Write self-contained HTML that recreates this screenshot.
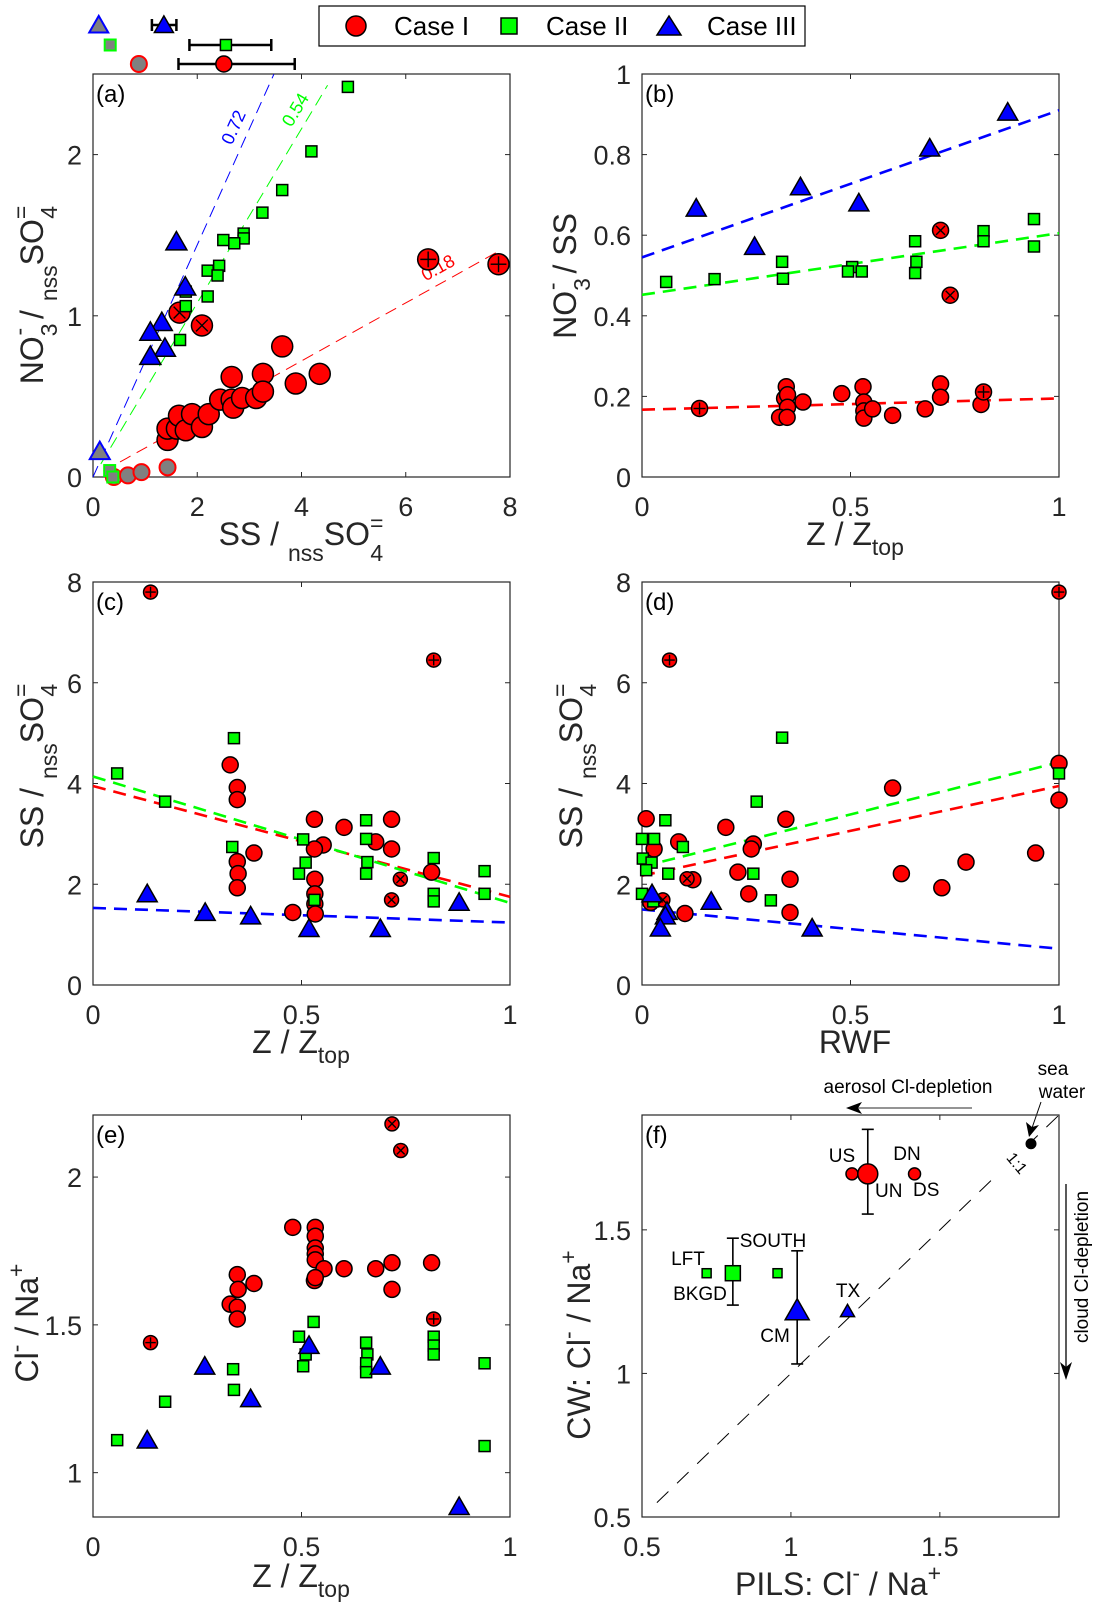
<!DOCTYPE html>
<html><head><meta charset="utf-8"><title>Six-panel aerosol and cloud-water ratio scatter plots (a)–(f)</title>
<style>
html,body{margin:0;padding:0;background:#fff;}
svg{display:block;font-family:"Liberation Sans",Arial,sans-serif;}
</style></head>
<body>
<svg id="fig" width="1100" height="1618" viewBox="0 0 1100 1618" xmlns="http://www.w3.org/2000/svg">
<rect x="0" y="0" width="1100" height="1618" fill="#fff"/>
<g id="legend">
  <rect x="319" y="6" width="486" height="40" fill="#fff" stroke="#000" stroke-width="1.2"/>
  <g>
    <circle cx="356" cy="26" r="10" fill="#f00" stroke="#000" stroke-width="1.5"/>
    <text x="394" y="35" font-size="26" fill="#000">Case I</text>
  </g>
  <g>
    <rect x="501" y="18" width="16" height="16" fill="#0f0" stroke="#000" stroke-width="1.5"/>
    <text x="546" y="35" font-size="26" fill="#000">Case II</text>
  </g>
  <g>
    <polygon points="669,16 681,35 657,35" fill="#00f" stroke="#000" stroke-width="1.5"/>
    <text x="707" y="35" font-size="26" fill="#000">Case III</text>
  </g>
</g>
<g font-size="32" fill="#262626">
  <text x="301" y="545" text-anchor="middle">SS / <tspan font-size="23" dy="16">nss</tspan><tspan dy="-16">SO</tspan><tspan font-size="23" dy="-14">=</tspan><tspan font-size="23" dx="-13" dy="30">4</tspan></text>
  <text transform="translate(43,295) rotate(-90)" text-anchor="middle">NO<tspan font-size="23" dy="14">3</tspan><tspan font-size="23" dx="-12" dy="-30">-</tspan><tspan dy="16"> / </tspan><tspan font-size="23" dy="14">nss</tspan><tspan dy="-14">SO</tspan><tspan font-size="23" dy="-14">=</tspan><tspan font-size="23" dx="-13" dy="28">4</tspan></text>
  <text x="855" y="545" text-anchor="middle">Z / Z<tspan font-size="23" dy="10">top</tspan></text>
  <text transform="translate(576,276) rotate(-90)" text-anchor="middle">NO<tspan font-size="23" dy="14">3</tspan><tspan font-size="23" dx="-12" dy="-30">-</tspan><tspan dy="16"> / SS</tspan></text>
  <text x="301" y="1053" text-anchor="middle">Z / Z<tspan font-size="23" dy="10">top</tspan></text>
  <text transform="translate(43,766) rotate(-90)" text-anchor="middle">SS / <tspan font-size="23" dy="14">nss</tspan><tspan dy="-14">SO</tspan><tspan font-size="23" dy="-14">=</tspan><tspan font-size="23" dx="-13" dy="28">4</tspan></text>
  <text x="855" y="1053" text-anchor="middle">RWF</text>
  <text transform="translate(582,766) rotate(-90)" text-anchor="middle">SS / <tspan font-size="23" dy="14">nss</tspan><tspan dy="-14">SO</tspan><tspan font-size="23" dy="-14">=</tspan><tspan font-size="23" dx="-13" dy="28">4</tspan></text>
  <text x="301" y="1587" text-anchor="middle">Z / Z<tspan font-size="23" dy="10">top</tspan></text>
  <text transform="translate(38,1323) rotate(-90)" text-anchor="middle">Cl<tspan font-size="23" dy="-14">-</tspan><tspan dy="14"> / Na</tspan><tspan font-size="23" dy="-14">+</tspan></text>
  <text x="838" y="1595" text-anchor="middle">PILS:  Cl<tspan font-size="23" dy="-14">-</tspan><tspan dy="14"> / Na</tspan><tspan font-size="23" dy="-14">+</tspan></text>
  <text transform="translate(590,1345) rotate(-90)" text-anchor="middle">CW:  Cl<tspan font-size="23" dy="-14">-</tspan><tspan dy="14"> / Na</tspan><tspan font-size="23" dy="-14">+</tspan></text>
</g>
<g fill="#000">
  <text x="908" y="1093" font-size="19" text-anchor="middle">aerosol Cl-depletion</text>
  <line x1="972" y1="1108" x2="856" y2="1108" stroke="#555" stroke-width="1.3"/>
  <polygon points="846,1108 862,1102 858,1108 862,1114" fill="#000"/>
  <text font-size="19" text-anchor="middle"><tspan x="1053" y="1075">sea</tspan><tspan x="1062" y="1098">water</tspan></text>
  <line x1="1041" y1="1102" x2="1032" y2="1128" stroke="#000" stroke-width="1"/>
  <polygon points="1029,1137 1026,1122 1032,1127 1039,1125" fill="#000"/>
  <text transform="translate(1088,1267) rotate(-90)" font-size="19" text-anchor="middle">cloud Cl-depletion</text>
  <line x1="1066" y1="1184" x2="1066" y2="1370" stroke="#000" stroke-width="1.3"/>
  <polygon points="1066,1380 1060,1362 1066,1367 1072,1362" fill="#000"/>
</g>
<g id="plots"></g>
</svg>
<script>
// ---------- Panel (a) data ----------
const aRedX=[1.43,1.43,1.61,1.65,1.78,1.90,2.09,2.22,2.44,2.66,2.69,2.66,2.86,3.13,3.26,3.26,3.63,3.89,4.35];
const aRedY=[0.23,0.30,0.30,0.38,0.29,0.39,0.31,0.39,0.48,0.48,0.43,0.62,0.49,0.49,0.64,0.53,0.81,0.58,0.64];
const aRedPlusX=[6.43,7.78];
const aRedPlusY=[1.35,1.32];
const aRedCrossX=[1.66,2.09];
const aRedCrossY=[1.02,0.94];
const aGrayCircX=[0.40,0.67,0.93,1.43];
const aGrayCircY=[0.0,0.01,0.03,0.06];
const aGraySqX=[0.32,0.38];
const aGraySqY=[0.04,0.0];
const aGrayTriX=[0.13];
const aGrayTriY=[0.16];
const aGreenX=[4.89,4.19,3.63,3.25,2.89,2.89,2.71,2.50,2.42,2.20,2.39,2.20,1.78,1.78,1.67];
const aGreenY=[2.42,2.02,1.78,1.64,1.51,1.48,1.45,1.47,1.31,1.28,1.25,1.12,1.06,1.15,0.85];
const aBlueX=[1.60,1.77,1.32,1.10,1.38,1.10];
const aBlueY=[1.46,1.18,0.96,0.90,0.80,0.75];
const aFitSlope=[0.18,0.54,0.72];
const aFitXStart=[0.2,0.15,0.0];
const aFitXEnd=[7.8,4.5,3.47];
const aFitLabels=["0.18","0.54","0.72"];
const aFitLabelX=[6.76,4.13,2.96];
const stripMean=[1.36,2.55,2.51];
const stripLo=[1.13,1.85,1.64];
const stripHi=[1.60,3.42,3.87];
const stripGray=[0.11,0.33,0.88];
// ---------- Panel (b) data ----------
const bBlueX=[0.13,0.27,0.38,0.52,0.69,0.877];
const bBlueY=[0.667,0.572,0.72,0.68,0.816,0.905];
const bGreenX=[0.058,0.174,0.336,0.338,0.504,0.494,0.527,0.655,0.658,0.655,0.819,0.819,0.94,0.94];
const bGreenY=[0.484,0.491,0.534,0.492,0.521,0.51,0.51,0.585,0.534,0.506,0.61,0.585,0.64,0.572];
const bRedX=[0.346,0.342,0.349,0.349,0.33,0.348,0.386,0.479,0.53,0.532,0.532,0.532,0.553,0.601,0.679,0.716,0.716,0.813];
const bRedY=[0.224,0.195,0.204,0.173,0.148,0.148,0.186,0.207,0.224,0.186,0.164,0.146,0.169,0.153,0.169,0.231,0.198,0.18];
const bRedPlusX=[0.138,0.819];
const bRedPlusY=[0.17,0.211];
const bRedCrossX=[0.716,0.739];
const bRedCrossY=[0.612,0.451];
const bFitStart=[0.167,0.452,0.545];
const bFitEnd=[0.195,0.605,0.91];
// ---------- Panel (c) data ----------
const cRedX=[0.329,0.346,0.346,0.346,0.348,0.346,0.386,0.531,0.602,0.552,0.531,0.532,0.532,0.532,0.533,0.479,0.678,0.716,0.716,0.812];
const cRedY=[4.37,3.92,3.68,2.45,2.21,1.93,2.62,3.29,3.13,2.78,2.70,2.10,1.81,1.61,1.41,1.44,2.84,3.29,2.70,2.24];
const cRedPlusX=[0.138,0.817];
const cRedPlusY=[7.8,6.45];
const cRedCrossX=[0.737,0.716];
const cRedCrossY=[2.10,1.69];
const cGreenX=[0.058,0.173,0.338,0.334,0.504,0.51,0.494,0.531,0.655,0.655,0.658,0.655,0.817,0.817,0.817,0.939,0.939];
const cGreenY=[4.2,3.64,4.9,2.74,2.89,2.43,2.21,1.69,3.27,2.9,2.44,2.21,2.52,1.81,1.66,2.26,1.81];
const cBlueX=[0.13,0.269,0.378,0.518,0.689,0.878];
const cBlueY=[1.81,1.44,1.37,1.12,1.12,1.64];
const cFitStart=[3.95,4.14,1.53];
const cFitEnd=[1.75,1.63,1.24];
// ---------- Panel (d) data ----------
const dRedX=[1.0,1.0,0.601,0.01,0.345,0.201,0.088,0.029,0.267,0.262,0.23,0.622,0.944,0.777,0.719,0.355,0.256,0.355,0.103,0.122,0.021];
const dRedY=[4.4,3.67,3.91,3.3,3.29,3.13,2.84,2.70,2.8,2.7,2.24,2.21,2.62,2.44,1.93,2.1,1.81,1.44,1.42,2.09,1.64];
const dRedPlusX=[1.0,0.066];
const dRedPlusY=[7.8,6.45];
const dRedCrossX=[0.108,0.05];
const dRedCrossY=[2.11,1.69];
const dGreenX=[0.336,1.0,0.275,0.056,0.0,0.029,0.098,0.002,0.023,0.01,0.063,0.267,0.0,0.309,0.027];
const dGreenY=[4.91,4.2,3.64,3.27,2.9,2.9,2.74,2.51,2.43,2.28,2.21,2.21,1.81,1.68,1.66];
const dBlueX=[0.024,0.166,0.06,0.056,0.044,0.408];
const dBlueY=[1.81,1.66,1.46,1.37,1.13,1.13];
const dFitStart=[2.17,2.35,1.5];
const dFitEnd=[3.95,4.42,0.72];
// ---------- Panel (e) data ----------
const eRedX=[0.479,0.533,0.533,0.533,0.533,0.533,0.554,0.531,0.533,0.602,0.678,0.717,0.717,0.812,0.346,0.348,0.386,0.329,0.346,0.346];
const eRedY=[1.83,1.83,1.80,1.76,1.74,1.72,1.69,1.65,1.66,1.69,1.69,1.71,1.62,1.71,1.67,1.62,1.64,1.57,1.56,1.52];
const eRedPlusX=[0.817,0.138];
const eRedPlusY=[1.52,1.44];
const eRedCrossX=[0.717,0.738];
const eRedCrossY=[2.18,2.09];
const eGreenX=[0.529,0.494,0.51,0.504,0.655,0.658,0.655,0.655,0.817,0.817,0.817,0.939,0.939,0.336,0.338,0.173,0.058];
const eGreenY=[1.51,1.46,1.40,1.36,1.44,1.40,1.37,1.34,1.46,1.43,1.40,1.37,1.09,1.35,1.28,1.24,1.11];
const eBlueX=[0.268,0.378,0.518,0.689,0.13,0.878];
const eBlueY=[1.36,1.25,1.43,1.36,1.11,0.885];
// ---------- Panel (f) data ----------
const fLabels=["US","UN","DN","DS","SOUTH","LFT","BKGD","CM","TX"];
const fRedMeanX=[1.258];
const fRedMeanY=[1.695];
const fRedErrLo=[1.555];
const fRedErrHi=[1.85];
const fRedSmallX=[1.205,1.415];
const fRedSmallY=[1.695,1.695];
const fGreenMeanX=[0.805];
const fGreenMeanY=[1.349];
const fGreenErrLo=[1.238];
const fGreenErrHi=[1.471];
const fGreenSmallX=[0.717,0.955];
const fGreenSmallY=[1.349,1.349];
const fBlueMeanX=[1.021];
const fBlueMeanY=[1.22];
const fBlueErrLo=[1.033];
const fBlueErrHi=[1.427];
const fBlueSmallX=[1.19];
const fBlueSmallY=[1.217];
const fSeaX=[1.806];
const fSeaY=[1.80];

const NS='http://www.w3.org/2000/svg';
const root=document.getElementById('plots');
function mk(tag,attrs,parent){const e=document.createElementNS(NS,tag);for(const k in attrs)e.setAttribute(k,attrs[k]);(parent||root).appendChild(e);return e;}

function axes(P,name,xt,xtl,yt,ytl,letter){
  const g=mk('g',{});
  
  
  P.sx=v=>P.L+(v-P.x0)/(P.x1-P.x0)*(P.R-P.L);
  P.sy=v=>P.B-(v-P.y0)/(P.y1-P.y0)*(P.B-P.T);
  const box=mk('rect',{x:P.L,y:P.T,width:P.R-P.L,height:P.B-P.T,fill:'none',stroke:'#262626','stroke-width':1.2},g);
  
  
  xt.forEach((v,i)=>{
    const x=P.sx(v);
    mk('line',{x1:x,y1:P.B,x2:x,y2:P.B-5,stroke:'#262626','stroke-width':1},g);
    mk('line',{x1:x,y1:P.T,x2:x,y2:P.T+5,stroke:'#262626','stroke-width':1},g);
    const t=mk('text',{x:x,y:P.B+39,'font-size':27,fill:'#262626','text-anchor':'middle'},g);
    t.textContent=xtl[i];
    
    
  });
  yt.forEach((v,i)=>{
    const y=P.sy(v);
    mk('line',{x1:P.L,y1:y,x2:P.L+5,y2:y,stroke:'#262626','stroke-width':1},g);
    mk('line',{x1:P.R,y1:y,x2:P.R-5,y2:y,stroke:'#262626','stroke-width':1},g);
    const t=mk('text',{x:P.L-11,y:y+10,'font-size':27,fill:'#262626','text-anchor':'end'},g);
    t.textContent=ytl[i];
    
    
  });
  const l=mk('text',{x:P.L+3,y:P.T+28,'font-size':24,fill:'#000'},g);
  l.textContent=letter;
  
  
  return P;
}

function marker(P,type,x,y,size,fill,stroke,sw,deco,name){
  return markerPx(P.sx(x),P.sy(y),type,size,fill,stroke,sw,deco,name);
}
function markerPx(cx,cy,type,size,fill,stroke,sw,deco,name){
  const g=mk('g',{});
  
  
  if(type==='o') mk('circle',{cx:cx,cy:cy,r:size,fill:fill,stroke:stroke,'stroke-width':sw},g);
  else if(type==='s') mk('rect',{x:cx-size,y:cy-size,width:2*size,height:2*size,fill:fill,stroke:stroke,'stroke-width':sw},g);
  else if(type==='^'){const h=size*1.75;mk('polygon',{points:`${cx},${cy-h*0.55} ${cx-size},${cy+h*0.45} ${cx+size},${cy+h*0.45}`,fill:fill,stroke:stroke,'stroke-width':sw},g);}
  const d=size*0.75;
  if(deco==='+'){mk('line',{x1:cx-d,y1:cy,x2:cx+d,y2:cy,stroke:'#000','stroke-width':1.4},g);mk('line',{x1:cx,y1:cy-d,x2:cx,y2:cy+d,stroke:'#000','stroke-width':1.4},g);}
  if(deco==='x'){const e=d*0.75;mk('line',{x1:cx-e,y1:cy-e,x2:cx+e,y2:cy+e,stroke:'#000','stroke-width':1.4},g);mk('line',{x1:cx-e,y1:cy+e,x2:cx+e,y2:cy-e,stroke:'#000','stroke-width':1.4},g);}
  return g;
}
function fitLine(P,x0,y0,x1,y1,color,w,dash,name){
  const ln=mk('line',{x1:P.sx(x0),y1:P.sy(y0),x2:P.sx(x1),y2:P.sy(y1),stroke:color,'stroke-width':w,'stroke-dasharray':dash});
  
  
}
const RED='#ff0000',GRN='#00ff00',BLU='#0000ff',GRY='#808080';
const FITC=[RED,GRN,BLU];

// ===== Panel a =====
const A=axes({L:93,R:510,T:74,B:477,x0:0,x1:8,y0:0,y1:2.5},'panel-a',[0,2,4,6,8],['0','2','4','6','8'],[0,1,2],['0','1','2'],'(a)');
aFitSlope.forEach((s,i)=>{
  fitLine(A,aFitXStart[i],s*aFitXStart[i],aFitXEnd[i],s*aFitXEnd[i],FITC[i],1,'12,7','fit-line-a');
  const lx=A.sx(aFitLabelX[i]), ly=A.sy(s*aFitLabelX[i]);
  const pxSlope=s*(A.B-A.T)/2.5/((A.R-A.L)/8);
  const th=Math.atan(pxSlope);
  const ang=-th*180/Math.PI;
  const ox=-Math.sin(th)*9, oy=-Math.cos(th)*9;
  const t=mk('text',{x:0,y:0,'font-size':18,fill:FITC[i],'text-anchor':'middle',transform:`translate(${lx+ox},${ly+oy}) rotate(${ang})`});
  t.textContent=aFitLabels[i];
  
  
});
aGrayCircX.forEach((x,i)=>marker(A,'o',x,aGrayCircY[i],8,GRY,RED,2,null,'gray-point-case-i'));
aGraySqX.forEach((x,i)=>marker(A,'s',x,aGraySqY[i],5.5,GRY,GRN,2,null,'gray-point-case-ii'));
aGrayTriX.forEach((x,i)=>marker(A,'^',x,aGrayTriY[i],10,GRY,BLU,2,null,'gray-point-case-iii'));
aRedX.forEach((x,i)=>marker(A,'o',x,aRedY[i],10.5,RED,'#000',1.5,null,'point-case-i'));
aRedPlusX.forEach((x,i)=>marker(A,'o',x,aRedPlusY[i],10.5,RED,'#000',1.5,'+','point-case-i-plus'));
aRedCrossX.forEach((x,i)=>marker(A,'o',x,aRedCrossY[i],10.5,RED,'#000',1.5,'x','point-case-i-cross'));
aGreenX.forEach((x,i)=>marker(A,'s',x,aGreenY[i],5.5,GRN,'#000',1.5,null,'point-case-ii'));
aBlueX.forEach((x,i)=>marker(A,'^',x,aBlueY[i],10.5,BLU,'#000',1.5,null,'point-case-iii'));
const stripY=[25,45,64];
const stripType=['^','s','o'];
const stripFill=[BLU,GRN,RED];
const stripSize=[9.5,5.5,8];
stripMean.forEach((m,i)=>{
  const y=stripY[i],x0=A.sx(stripLo[i]),x1=A.sx(stripHi[i]);
  const eb=mk('g',{});
  
  
  mk('line',{x1:x0,y1:y,x2:x1,y2:y,stroke:'#000','stroke-width':2.5},eb);
  mk('line',{x1:x0,y1:y-6,x2:x0,y2:y+6,stroke:'#000','stroke-width':2.5},eb);
  mk('line',{x1:x1,y1:y-6,x2:x1,y2:y+6,stroke:'#000','stroke-width':2.5},eb);
  markerPx(A.sx(stripGray[i]),y,stripType[i],stripSize[i],GRY,stripFill[i],2,null,'mean-gray-marker');
  markerPx(A.sx(m),y,stripType[i],stripSize[i],stripFill[i],'#000',1.5,null,'mean-marker');
});

// ===== Panel b =====
const Bp=axes({L:642,R:1059,T:74,B:477,x0:0,x1:1,y0:0,y1:1},'panel-b',[0,0.5,1],['0','0.5','1'],[0,0.2,0.4,0.6,0.8,1],['0','0.2','0.4','0.6','0.8','1'],'(b)');
bFitStart.forEach((s,i)=>fitLine(Bp,0,s,1,bFitEnd[i],FITC[i],2.6,'13,8','fit-line-b'));
bRedX.forEach((x,i)=>marker(Bp,'o',x,bRedY[i],8,RED,'#000',1.5,null,'point-case-i'));
bRedPlusX.forEach((x,i)=>marker(Bp,'o',x,bRedPlusY[i],8,RED,'#000',1.5,'+','point-case-i-plus'));
bRedCrossX.forEach((x,i)=>marker(Bp,'o',x,bRedCrossY[i],8,RED,'#000',1.5,'x','point-case-i-cross'));
bGreenX.forEach((x,i)=>marker(Bp,'s',x,bGreenY[i],5.5,GRN,'#000',1.5,null,'point-case-ii'));
bBlueX.forEach((x,i)=>marker(Bp,'^',x,bBlueY[i],10,BLU,'#000',1.5,null,'point-case-iii'));

// ===== Panel c =====
const C=axes({L:93,R:510,T:582,B:985,x0:0,x1:1,y0:0,y1:8},'panel-c',[0,0.5,1],['0','0.5','1'],[0,2,4,6,8],['0','2','4','6','8'],'(c)');
cFitStart.forEach((s,i)=>fitLine(C,0,s,1,cFitEnd[i],FITC[i],2.6,'13,8','fit-line-c'));
cRedX.forEach((x,i)=>marker(C,'o',x,cRedY[i],8,RED,'#000',1.5,null,'point-case-i'));
cRedPlusX.forEach((x,i)=>marker(C,'o',x,cRedPlusY[i],7,RED,'#000',1.5,'+','point-case-i-plus'));
cRedCrossX.forEach((x,i)=>marker(C,'o',x,cRedCrossY[i],7,RED,'#000',1.5,'x','point-case-i-cross'));
cGreenX.forEach((x,i)=>marker(C,'s',x,cGreenY[i],5.5,GRN,'#000',1.5,null,'point-case-ii'));
cBlueX.forEach((x,i)=>marker(C,'^',x,cBlueY[i],10,BLU,'#000',1.5,null,'point-case-iii'));

// ===== Panel d =====
const D=axes({L:642,R:1059,T:582,B:985,x0:0,x1:1,y0:0,y1:8},'panel-d',[0,0.5,1],['0','0.5','1'],[0,2,4,6,8],['0','2','4','6','8'],'(d)');
dFitStart.forEach((s,i)=>fitLine(D,0,s,1,dFitEnd[i],FITC[i],2.6,'13,8','fit-line-d'));
dRedX.forEach((x,i)=>marker(D,'o',x,dRedY[i],8,RED,'#000',1.5,null,'point-case-i'));
dRedPlusX.forEach((x,i)=>marker(D,'o',x,dRedPlusY[i],7,RED,'#000',1.5,'+','point-case-i-plus'));
dRedCrossX.forEach((x,i)=>marker(D,'o',x,dRedCrossY[i],7,RED,'#000',1.5,'x','point-case-i-cross'));
dGreenX.forEach((x,i)=>marker(D,'s',x,dGreenY[i],5.5,GRN,'#000',1.5,null,'point-case-ii'));
dBlueX.forEach((x,i)=>marker(D,'^',x,dBlueY[i],10,BLU,'#000',1.5,null,'point-case-iii'));

// ===== Panel e =====
const E=axes({L:93,R:510,T:1115,B:1517,x0:0,x1:1,y0:0.85,y1:2.21},'panel-e',[0,0.5,1],['0','0.5','1'],[1,1.5,2],['1','1.5','2'],'(e)');
eRedX.forEach((x,i)=>marker(E,'o',x,eRedY[i],8,RED,'#000',1.5,null,'point-case-i'));
eRedPlusX.forEach((x,i)=>marker(E,'o',x,eRedPlusY[i],7,RED,'#000',1.5,'+','point-case-i-plus'));
eRedCrossX.forEach((x,i)=>marker(E,'o',x,eRedCrossY[i],7,RED,'#000',1.5,'x','point-case-i-cross'));
eGreenX.forEach((x,i)=>marker(E,'s',x,eGreenY[i],5.5,GRN,'#000',1.5,null,'point-case-ii'));
eBlueX.forEach((x,i)=>marker(E,'^',x,eBlueY[i],10,BLU,'#000',1.5,null,'point-case-iii'));

// ===== Panel f =====
const F=axes({L:642,R:1059,T:1115,B:1517,x0:0.5,x1:1.9,y0:0.5,y1:1.9},'panel-f',[0.5,1,1.5],['0.5','1','1.5'],[0.5,1,1.5],['0.5','1','1.5'],'(f)');
fitLine(F,0.55,0.55,1.68,1.68,'#000',1,'16,12','one-to-one-line');
fitLine(F,1.79,1.79,1.9,1.9,'#000',1,'16,12','one-to-one-line');
{const t=mk('text',{x:0,y:0,'font-size':16,fill:'#000','text-anchor':'middle',transform:`translate(${F.sx(1.745)},${F.sy(1.72)}) rotate(50)`});
t.textContent='1:1';

}
function errbar(P,x,lo,hi,name){
  const g=mk('g',{});
  
  
  const cx=P.sx(x);
  mk('line',{x1:cx,y1:P.sy(lo),x2:cx,y2:P.sy(hi),stroke:'#000','stroke-width':1.6},g);
  mk('line',{x1:cx-6,y1:P.sy(lo),x2:cx+6,y2:P.sy(lo),stroke:'#000','stroke-width':1.6},g);
  mk('line',{x1:cx-6,y1:P.sy(hi),x2:cx+6,y2:P.sy(hi),stroke:'#000','stroke-width':1.6},g);
}
fRedMeanX.forEach((x,i)=>errbar(F,x,fRedErrLo[i],fRedErrHi[i],'errorbar-case-i'));
fGreenMeanX.forEach((x,i)=>errbar(F,x,fGreenErrLo[i],fGreenErrHi[i],'errorbar-case-ii'));
fBlueMeanX.forEach((x,i)=>errbar(F,x,fBlueErrLo[i],fBlueErrHi[i],'errorbar-case-iii'));
fRedSmallX.forEach((x,i)=>marker(F,'o',x,fRedSmallY[i],6,RED,'#000',1.5,null,'leg-point-case-i'));
fRedMeanX.forEach((x,i)=>marker(F,'o',x,fRedMeanY[i],10,RED,'#000',1.5,null,'mean-point-case-i'));
fGreenSmallX.forEach((x,i)=>marker(F,'s',x,fGreenSmallY[i],4.5,GRN,'#000',1.5,null,'leg-point-case-ii'));
fGreenMeanX.forEach((x,i)=>marker(F,'s',x,fGreenMeanY[i],7.5,GRN,'#000',1.5,null,'mean-point-case-ii'));
fBlueSmallX.forEach((x,i)=>marker(F,'^',x,fBlueSmallY[i],7,BLU,'#000',1.5,null,'leg-point-case-iii'));
fBlueMeanX.forEach((x,i)=>marker(F,'^',x,fBlueMeanY[i],12,BLU,'#000',1.5,null,'mean-point-case-iii'));
fSeaX.forEach((x,i)=>marker(F,'o',x,fSeaY[i],5,'#000','#000',1,null,'sea-water-point'));
const fLabX=[842,875,907,913,773,688,700,775,848];
const fLabY=[1162,1197,1160,1196,1247,1265,1300,1342,1297];
const fLabAnchor=['middle','start','middle','start','middle','middle','middle','middle','middle'];
fLabels.forEach((s,i)=>{
  const t=mk('text',{x:fLabX[i],y:fLabY[i],'font-size':19,fill:'#000','text-anchor':fLabAnchor[i]});
  t.textContent=s;
  
  
});
</script>
</body></html>
